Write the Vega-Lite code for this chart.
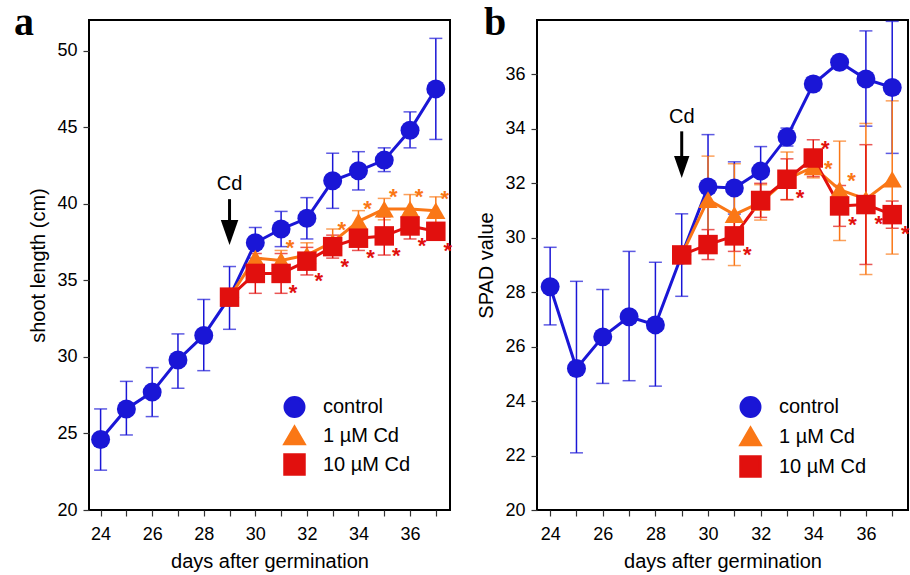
{
  "$schema": "https://vega.github.io/schema/vega-lite/v6.json",
  "padding": {"left": 13, "top": 2, "right": 0, "bottom": 0},
  "background": "white",
  "config": {
    "font": "Liberation Sans",
    "view": {"stroke": "black", "strokeWidth": 2},
    "axis": {"domain": false, "grid": false, "labelFont": "Liberation Sans", "labelFontSize": 18, "labelColor": "black", "titleFont": "Liberation Sans", "titleFontSize": 20, "titleFontWeight": "normal", "titleColor": "black", "tickColor": "#333", "tickWidth": 1.2, "tickSize": 6, "labelPadding": 5},
    "axisX": {"titlePadding": 8, "labelPadding": 9},
    "axisY": {"titlePadding": 8},
    "title": {"font": "Liberation Serif", "fontSize": 40, "fontWeight": "bold", "color": "black"},
    "legend": {"orient": "none", "title": null, "padding": 0, "symbolSize": 400, "labelFontSize": 20, "labelFont": "Liberation Sans", "labelColor": "black", "labelOffset": 17, "symbolOpacity": 1, "symbolStrokeWidth": 3}
  },
  "datasets": {
    "a": [
      {"series": "control", "day": 24, "mean": 24.6, "lo": 22.6, "hi": 26.6},
      {"series": "control", "day": 25, "mean": 26.6, "lo": 24.9, "hi": 28.4},
      {"series": "control", "day": 26, "mean": 27.7, "lo": 26.1, "hi": 29.3},
      {"series": "control", "day": 27, "mean": 29.8, "lo": 27.95, "hi": 31.5},
      {"series": "control", "day": 28, "mean": 31.4, "lo": 29.1, "hi": 33.75},
      {"series": "control", "day": 29, "mean": 33.9, "lo": 31.8, "hi": 35.9},
      {"series": "control", "day": 30, "mean": 37.45, "lo": 36.45, "hi": 38.45},
      {"series": "control", "day": 31, "mean": 38.35, "lo": 37.2, "hi": 39.5},
      {"series": "control", "day": 32, "mean": 39.05, "lo": 37.7, "hi": 40.4},
      {"series": "control", "day": 33, "mean": 41.5, "lo": 39.7, "hi": 43.3},
      {"series": "control", "day": 34, "mean": 42.15, "lo": 40.9, "hi": 43.4},
      {"series": "control", "day": 35, "mean": 42.85, "lo": 42.1, "hi": 43.65},
      {"series": "control", "day": 36, "mean": 44.8, "lo": 43.65, "hi": 46.0},
      {"series": "control", "day": 37, "mean": 47.5, "lo": 44.2, "hi": 50.8},
      {"series": "1 µM Cd", "day": 29, "mean": 33.9, "lo": null, "hi": null},
      {"series": "1 µM Cd", "day": 30, "mean": 36.45, "lo": 35.85, "hi": 37.05},
      {"series": "1 µM Cd", "day": 31, "mean": 36.3, "lo": 35.65, "hi": 36.95},
      {"series": "1 µM Cd", "day": 32, "mean": 36.65, "lo": 35.85, "hi": 37.45},
      {"series": "1 µM Cd", "day": 33, "mean": 37.5, "lo": 36.65, "hi": 38.35},
      {"series": "1 µM Cd", "day": 34, "mean": 38.85, "lo": 38.15, "hi": 39.55},
      {"series": "1 µM Cd", "day": 35, "mean": 39.65, "lo": 38.95, "hi": 40.35},
      {"series": "1 µM Cd", "day": 36, "mean": 39.65, "lo": 38.7, "hi": 40.6},
      {"series": "1 µM Cd", "day": 37, "mean": 39.55, "lo": 38.65, "hi": 40.45},
      {"series": "10 µM Cd", "day": 29, "mean": 33.9, "lo": null, "hi": null},
      {"series": "10 µM Cd", "day": 30, "mean": 35.45, "lo": 34.15, "hi": 36.75},
      {"series": "10 µM Cd", "day": 31, "mean": 35.45, "lo": 34.15, "hi": 36.75},
      {"series": "10 µM Cd", "day": 32, "mean": 36.25, "lo": 35.35, "hi": 37.15},
      {"series": "10 µM Cd", "day": 33, "mean": 37.2, "lo": 36.45, "hi": 37.95},
      {"series": "10 µM Cd", "day": 34, "mean": 37.75, "lo": 36.95, "hi": 38.55},
      {"series": "10 µM Cd", "day": 35, "mean": 37.9, "lo": 36.65, "hi": 39.15},
      {"series": "10 µM Cd", "day": 36, "mean": 38.55, "lo": 37.7, "hi": 39.4},
      {"series": "10 µM Cd", "day": 37, "mean": 38.2, "lo": 37.65, "hi": 38.75}
    ],
    "b": [
      {"series": "control", "day": 24, "mean": 28.2, "lo": 26.8, "hi": 29.65},
      {"series": "control", "day": 25, "mean": 25.2, "lo": 22.1, "hi": 28.4},
      {"series": "control", "day": 26, "mean": 26.36, "lo": 24.65, "hi": 28.1},
      {"series": "control", "day": 27, "mean": 27.1, "lo": 24.75, "hi": 29.5},
      {"series": "control", "day": 28, "mean": 26.8, "lo": 24.55, "hi": 29.1},
      {"series": "control", "day": 29, "mean": 29.37, "lo": 27.85, "hi": 30.88},
      {"series": "control", "day": 30, "mean": 31.87, "lo": 29.95, "hi": 33.79},
      {"series": "control", "day": 31, "mean": 31.83, "lo": 30.87, "hi": 32.79},
      {"series": "control", "day": 32, "mean": 32.45, "lo": 31.55, "hi": 33.35},
      {"series": "control", "day": 33, "mean": 33.7, "lo": 33.37, "hi": 34.03},
      {"series": "control", "day": 34, "mean": 35.65, "lo": 35.4, "hi": 35.9},
      {"series": "control", "day": 35, "mean": 36.45, "lo": 36.3, "hi": 36.6},
      {"series": "control", "day": 36, "mean": 35.83, "lo": 34.1, "hi": 37.6},
      {"series": "control", "day": 37, "mean": 35.52, "lo": 33.1, "hi": 37.95},
      {"series": "1 µM Cd", "day": 29, "mean": 29.37, "lo": null, "hi": null},
      {"series": "1 µM Cd", "day": 30, "mean": 31.4, "lo": 29.8, "hi": 33.0},
      {"series": "1 µM Cd", "day": 31, "mean": 30.85, "lo": 28.98, "hi": 32.72},
      {"series": "1 µM Cd", "day": 32, "mean": 31.3, "lo": 30.65, "hi": 31.95},
      {"series": "1 µM Cd", "day": 33, "mean": 32.15, "lo": 31.4, "hi": 33.15},
      {"series": "1 µM Cd", "day": 34, "mean": 32.6, "lo": 32.2, "hi": 33.0},
      {"series": "1 µM Cd", "day": 35, "mean": 31.77, "lo": 29.9, "hi": 33.55},
      {"series": "1 µM Cd", "day": 36, "mean": 31.42, "lo": 28.65, "hi": 34.2},
      {"series": "1 µM Cd", "day": 37, "mean": 32.15, "lo": 29.4, "hi": 35.03},
      {"series": "10 µM Cd", "day": 29, "mean": 29.37, "lo": null, "hi": null},
      {"series": "10 µM Cd", "day": 30, "mean": 29.75, "lo": 29.2, "hi": 30.3},
      {"series": "10 µM Cd", "day": 31, "mean": 30.07, "lo": 29.5, "hi": 30.65},
      {"series": "10 µM Cd", "day": 32, "mean": 31.37, "lo": 30.75, "hi": 32.0},
      {"series": "10 µM Cd", "day": 33, "mean": 32.15, "lo": 31.4, "hi": 32.9},
      {"series": "10 µM Cd", "day": 34, "mean": 32.93, "lo": 32.25, "hi": 33.6},
      {"series": "10 µM Cd", "day": 35, "mean": 31.17, "lo": 30.42, "hi": 31.92},
      {"series": "10 µM Cd", "day": 36, "mean": 31.22, "lo": 29.02, "hi": 33.42},
      {"series": "10 µM Cd", "day": 37, "mean": 30.85, "lo": 30.35, "hi": 31.35}
    ],
    "ast_a": [
      {"series": "1 µM Cd", "day": 31, "mean": 36.3, "pos": "above"},
      {"series": "1 µM Cd", "day": 33, "mean": 37.5, "pos": "above"},
      {"series": "1 µM Cd", "day": 34, "mean": 38.85, "pos": "above"},
      {"series": "1 µM Cd", "day": 35, "mean": 39.65, "pos": "above"},
      {"series": "1 µM Cd", "day": 36, "mean": 39.65, "pos": "above"},
      {"series": "1 µM Cd", "day": 37, "mean": 39.55, "pos": "above"},
      {"series": "10 µM Cd", "day": 31, "mean": 35.45, "pos": "below"},
      {"series": "10 µM Cd", "day": 32, "mean": 36.25, "pos": "below"},
      {"series": "10 µM Cd", "day": 33, "mean": 37.2, "pos": "below"},
      {"series": "10 µM Cd", "day": 34, "mean": 37.75, "pos": "below"},
      {"series": "10 µM Cd", "day": 35, "mean": 37.9, "pos": "below"},
      {"series": "10 µM Cd", "day": 36, "mean": 38.55, "pos": "below"},
      {"series": "10 µM Cd", "day": 37, "mean": 38.2, "pos": "below"}
    ],
    "ast_b": [
      {"series": "1 µM Cd", "day": 34, "mean": 32.6, "pos": "right"},
      {"series": "1 µM Cd", "day": 35, "mean": 31.77, "pos": "above"},
      {"series": "10 µM Cd", "day": 31, "mean": 30.07, "pos": "below"},
      {"series": "10 µM Cd", "day": 33, "mean": 32.15, "pos": "below"},
      {"series": "10 µM Cd", "day": 34, "mean": 32.93, "pos": "above"},
      {"series": "10 µM Cd", "day": 35, "mean": 31.17, "pos": "below"},
      {"series": "10 µM Cd", "day": 36, "mean": 31.22, "pos": "below"},
      {"series": "10 µM Cd", "day": 37, "mean": 30.85, "pos": "below"}
    ],
    "arrow_a": [{"day": 29, "top": 40.3, "head": 38.12, "label": "Cd"}],
    "arrow_b": [{"day": 29, "top": 33.91, "head": 32.6, "label": "Cd"}]
  },
  "resolve": {"scale": {"color": "independent", "shape": "independent", "size": "independent"}, "legend": {"color": "independent", "shape": "independent"}},
  "spacing": 21,
  "hconcat": [
    {
      "width": 361,
      "height": 490,
      "title": {"text": "a", "orient": "none", "anchor": "start", "frame": "group", "align": "left", "baseline": "alphabetic", "dx": -75, "dy": 15},
      "encoding": {
        "x": {"field": "day", "type": "quantitative", "title": "days after germination", "scale": {"domain": [23.55, 37.55], "nice": false, "zero": false}, "axis": {"values": [24,25,26,27,28,29,30,31,32,33,34,35,36,37], "labelExpr": "datum.value % 2 === 0 ? datum.label : ''"}},
        "color": {"field": "series", "type": "nominal", "scale": {"domain": ["control", "1 µM Cd", "10 µM Cd"], "range": ["#1a16d6", "#fa7716", "#e1100e"]},
          "legend": {"legendX": 194, "legendY": 376, "rowPadding": -2}}
      },
      "layer": [
        {
          "data": {"name": "a"},
          "transform": [{"filter": "datum.lo != null"}],
          "mark": {"type": "errorbar", "ticks": true, "thickness": 1.5, "size": 13},
          "encoding": {
            "y": {"field": "lo", "type": "quantitative", "title": "shoot length (cm)", "scale": {"domain": [20, 52], "nice": false, "zero": false}, "axis": {"values": [20,25,30,35,40,45,50], "labelPadding": 6}},
            "y2": {"field": "hi"}
          }
        },
        {
          "data": {"name": "a"},
          "mark": {"type": "line", "strokeWidth": 3},
          "encoding": {
            "y": {"field": "mean", "type": "quantitative", "title": "shoot length (cm)"}
          }
        },
        {
          "data": {"name": "a"},
          "mark": {"type": "point", "filled": true, "opacity": 1},
          "encoding": {
            "y": {"field": "mean", "type": "quantitative", "title": "shoot length (cm)"},
            "size": {"field": "series", "type": "nominal", "scale": {"domain": ["control", "1 µM Cd", "10 µM Cd"], "range": [360, 380, 270]}, "legend": null},
            "shape": {"field": "series", "type": "nominal", "scale": {"domain": ["control", "1 µM Cd", "10 µM Cd"], "range": ["circle", "triangle-up", "square"]},
              "legend": {"legendX": 194, "legendY": 376, "rowPadding": -2}}
          }
        },
        {
          "data": {"name": "ast_a"},
          "transform": [{"filter": "datum.pos === 'above'"}],
          "mark": {"type": "text", "text": "*", "fontSize": 22, "fontWeight": "bold", "baseline": "middle", "dx": 9, "dy": -12},
          "encoding": {
            "y": {"field": "mean", "type": "quantitative", "title": "shoot length (cm)"}
          }
        },
        {
          "data": {"name": "ast_a"},
          "transform": [{"filter": "datum.pos === 'below'"}],
          "mark": {"type": "text", "text": "*", "fontSize": 22, "fontWeight": "bold", "baseline": "middle", "dx": 12, "dy": 20},
          "encoding": {
            "y": {"field": "mean", "type": "quantitative", "title": "shoot length (cm)"}
          }
        },
        {
          "data": {"name": "arrow_a"},
          "mark": {"type": "rule", "strokeWidth": 3},
          "encoding": {
            "y": {"field": "top", "type": "quantitative", "title": "shoot length (cm)"},
            "y2": {"field": "head"},
            "color": {"value": "black"}
          }
        },
        {
          "data": {"name": "arrow_a"},
          "mark": {"type": "point", "shape": "M-0.7,-1L0.7,-1L0,1Z", "size": 625, "filled": true, "opacity": 1},
          "encoding": {
            "y": {"field": "head", "type": "quantitative", "title": "shoot length (cm)"},
            "color": {"value": "black"}
          }
        },
        {
          "data": {"name": "arrow_a"},
          "mark": {"type": "text", "fontSize": 20, "baseline": "middle", "dy": -15},
          "encoding": {
            "y": {"field": "top", "type": "quantitative", "title": "shoot length (cm)"},
            "text": {"field": "label"},
            "color": {"value": "black"}
          }
        }
      ]
    },
    {
      "width": 371,
      "height": 490,
      "title": {"text": "b", "orient": "none", "anchor": "start", "frame": "group", "align": "left", "baseline": "alphabetic", "dx": -53, "dy": 15},
      "encoding": {
        "x": {"field": "day", "type": "quantitative", "title": "days after germination", "scale": {"domain": [23.5, 37.6], "nice": false, "zero": false}, "axis": {"values": [24,25,26,27,28,29,30,31,32,33,34,35,36,37], "labelExpr": "datum.value % 2 === 0 ? datum.label : ''"}},
        "color": {"field": "series", "type": "nominal", "scale": {"domain": ["control", "1 µM Cd", "10 µM Cd"], "range": ["#1a16d6", "#fa7716", "#e1100e"]},
          "legend": {"legendX": 202, "legendY": 376, "rowPadding": -1}}
      },
      "layer": [
        {
          "data": {"name": "b"},
          "transform": [{"filter": "datum.lo != null"}],
          "mark": {"type": "errorbar", "ticks": true, "thickness": 1.5, "size": 13},
          "encoding": {
            "y": {"field": "lo", "type": "quantitative", "title": "SPAD value", "scale": {"domain": [20, 38], "nice": false, "zero": false}, "axis": {"values": [20,22,24,26,28,30,32,34,36], "labelPadding": 6}},
            "y2": {"field": "hi"}
          }
        },
        {
          "data": {"name": "b"},
          "mark": {"type": "line", "strokeWidth": 3},
          "encoding": {
            "y": {"field": "mean", "type": "quantitative", "title": "SPAD value"}
          }
        },
        {
          "data": {"name": "b"},
          "mark": {"type": "point", "filled": true, "opacity": 1},
          "encoding": {
            "y": {"field": "mean", "type": "quantitative", "title": "SPAD value"},
            "size": {"field": "series", "type": "nominal", "scale": {"domain": ["control", "1 µM Cd", "10 µM Cd"], "range": [360, 380, 270]}, "legend": null},
            "shape": {"field": "series", "type": "nominal", "scale": {"domain": ["control", "1 µM Cd", "10 µM Cd"], "range": ["circle", "triangle-up", "square"]},
              "legend": {"legendX": 202, "legendY": 376, "rowPadding": -1}}
          }
        },
        {
          "data": {"name": "ast_b"},
          "transform": [{"filter": "datum.pos === 'above'"}],
          "mark": {"type": "text", "text": "*", "fontSize": 22, "fontWeight": "bold", "baseline": "middle", "dx": 12, "dy": -9},
          "encoding": {
            "y": {"field": "mean", "type": "quantitative", "title": "SPAD value"}
          }
        },
        {
          "data": {"name": "ast_b"},
          "transform": [{"filter": "datum.pos === 'below'"}],
          "mark": {"type": "text", "text": "*", "fontSize": 22, "fontWeight": "bold", "baseline": "middle", "dx": 13, "dy": 19},
          "encoding": {
            "y": {"field": "mean", "type": "quantitative", "title": "SPAD value"}
          }
        },
        {
          "data": {"name": "ast_b"},
          "transform": [{"filter": "datum.pos === 'right'"}],
          "mark": {"type": "text", "text": "*", "fontSize": 22, "fontWeight": "bold", "baseline": "middle", "dx": 15, "dy": 2},
          "encoding": {
            "y": {"field": "mean", "type": "quantitative", "title": "SPAD value"}
          }
        },
        {
          "data": {"name": "arrow_b"},
          "mark": {"type": "rule", "strokeWidth": 3},
          "encoding": {
            "y": {"field": "top", "type": "quantitative", "title": "SPAD value"},
            "y2": {"field": "head"},
            "color": {"value": "black"}
          }
        },
        {
          "data": {"name": "arrow_b"},
          "mark": {"type": "point", "shape": "M-0.7,-1L0.7,-1L0,1Z", "size": 480, "filled": true, "opacity": 1},
          "encoding": {
            "y": {"field": "head", "type": "quantitative", "title": "SPAD value"},
            "color": {"value": "black"}
          }
        },
        {
          "data": {"name": "arrow_b"},
          "mark": {"type": "text", "fontSize": 20, "baseline": "middle", "dy": -14},
          "encoding": {
            "y": {"field": "top", "type": "quantitative", "title": "SPAD value"},
            "text": {"field": "label"},
            "color": {"value": "black"}
          }
        }
      ]
    }
  ]
}
